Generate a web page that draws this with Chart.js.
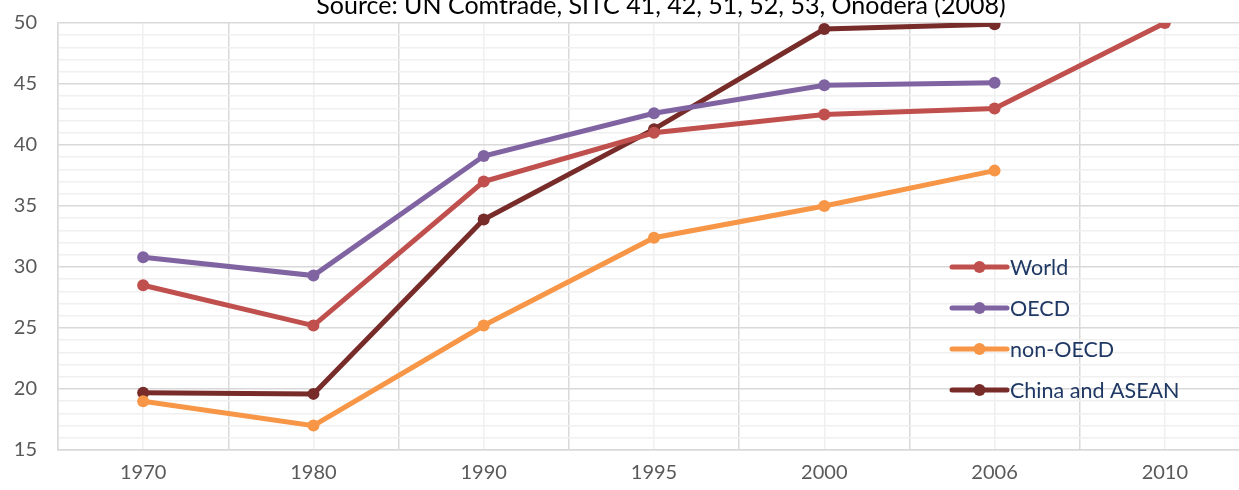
<!DOCTYPE html>
<html>
<head>
<meta charset="utf-8">
<script src="https://cdn.jsdelivr.net/npm/chart.js@4"></script>
<style>
  html, body { margin: 0; padding: 0; background: #fff; overflow: hidden; }
  #wrap { position: absolute; left: 0; top: -10px; width: 1256px; height: 500px; }
</style>
</head>
<body>
<div id="wrap"><canvas id="chart"></canvas></div>
<script>
const years = ['1970', '1980', '1990', '1995', '2000', '2006', '2010'];
const world = [28.5, 25.2, 37, 41, 42.5, 43, 50];
const oecd = [30.8, 29.3, 39.1, 42.6, 44.9, 45.1, null];
const nonOecd = [19, 17, 25.2, 32.4, 35, 37.9, null];
const chinaAsean = [19.7, 19.6, 33.9, 41.3, 49.5, 49.9, null];
const seriesNames = ['World', 'OECD', 'non-OECD', 'China and ASEAN'];
const seriesColors = ['#C0504D', '#8064A2', '#F79646', '#772C2A'];
const titleText = 'Source: UN Comtrade, SITC 41, 42, 51, 52, 53, Onodera (2008)';
const fontFamily = 'Lato, "Open Sans", sans-serif';

function makeSet(i, data) {
  return {
    label: seriesNames[i],
    data: data,
    borderColor: seriesColors[i],
    backgroundColor: seriesColors[i],
    borderWidth: 5,
    pointRadius: 6,
    pointHoverRadius: 6,
    pointBorderWidth: 0,
    tension: 0,
    spanGaps: false
  };
}

// title + legend drawn by hand so they sit where the original has them
// (canvas is shifted 10px up, so y here is page y + 10)
const overlay = {
  id: 'overlay',
  afterDraw(chart) {
    const c = chart.ctx;
    c.save();
    c.fillStyle = '#000';
    c.font = '25px ' + fontFamily;
    c.textAlign = 'center';
    c.textBaseline = 'alphabetic';
    c.fillText(titleText, 661, 24);

    const x0 = 952, x1 = 1007, top = 277, gap = 41;
    c.font = '21.5px ' + fontFamily;
    c.textAlign = 'left';
    c.textBaseline = 'middle';
    chart.data.datasets.forEach((ds, i) => {
      const y = top + i * gap;
      c.strokeStyle = ds.borderColor;
      c.lineWidth = 5;
      c.lineCap = 'round';
      c.beginPath();
      c.moveTo(x0, y);
      c.lineTo(x1, y);
      c.stroke();
      c.fillStyle = ds.borderColor;
      c.beginPath();
      c.arc((x0 + x1) / 2, y, 6, 0, Math.PI * 2);
      c.fill();
      c.fillStyle = '#1F3864';
      c.fillText(ds.label, x1 + 3, y + 1);
    });
    c.restore();
  }
};

new Chart(document.getElementById('chart'), {
  type: 'line',
  data: {
    labels: years,
    datasets: [
      makeSet(0, world),
      makeSet(1, oecd),
      makeSet(2, nonOecd),
      makeSet(3, chinaAsean)
    ]
  },
  plugins: [overlay],
  options: {
    responsive: true,
    maintainAspectRatio: false,
    animation: false,
    layout: { padding: { top: 6, right: 1, left: 0, bottom: 0 } },
    plugins: {
      legend: { display: false },
      title: { display: false },
      tooltip: { enabled: false }
    },
    scales: {
      x: {
        offset: true,
        grid: { offset: true, color: '#D9D9D9', lineWidth: 1.5, drawTicks: false },
        border: { color: '#D9D9D9', width: 1.5 },
        ticks: { color: '#595959', font: { family: fontFamily, size: 20 }, padding: 11 },
        afterFit(scale) { scale.height = 40; }
      },
      x2: {
        type: 'category',
        labels: years,
        offset: true,
        position: 'bottom',
        grid: { offset: false, color: '#F0F0F0', lineWidth: 1.5, drawTicks: false },
        border: { display: false },
        ticks: { display: false },
        afterFit(scale) { scale.height = 0; }
      },
      y: {
        min: 15,
        max: 50,
        ticks: {
          stepSize: 1,
          autoSkip: false,
          color: '#595959',
          font: { family: fontFamily, size: 20 },
          padding: 21,
          callback: v => (v % 5 === 0 ? v : '')
        },
        grid: {
          drawTicks: false,
          lineWidth: 1.5,
          color: ctx => (ctx.tick && ctx.tick.value % 5 === 0 ? '#D9D9D9' : '#F0F0F0')
        },
        border: { color: '#D9D9D9', width: 1.5 },
        afterFit(scale) { scale.width = 58; }
      }
    }
  }
});
</script>
</body>
</html>
